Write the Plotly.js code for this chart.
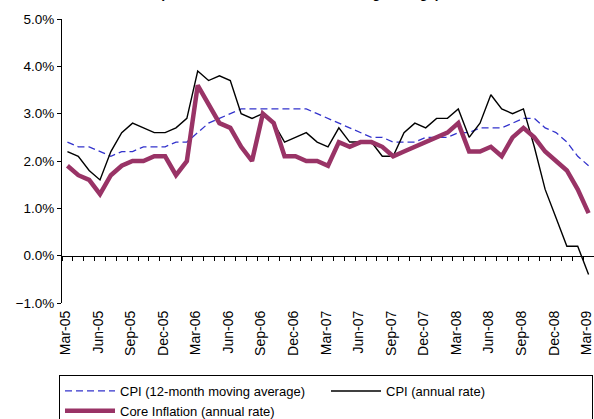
<!DOCTYPE html>
<html>
<head>
<meta charset="utf-8">
<script src="https://cdn.plot.ly/plotly-3.0.1.min.js"></script>
<style>
html,body{margin:0;padding:0;background:#fff;}
#chart{width:594px;height:419px;}
</style>
</head>
<body>
<div id="chart"></div>
<script>
const months = ["Mar-05","Apr-05","May-05","Jun-05","Jul-05","Aug-05","Sep-05","Oct-05","Nov-05","Dec-05","Jan-06","Feb-06",
"Mar-06","Apr-06","May-06","Jun-06","Jul-06","Aug-06","Sep-06","Oct-06","Nov-06","Dec-06","Jan-07","Feb-07",
"Mar-07","Apr-07","May-07","Jun-07","Jul-07","Aug-07","Sep-07","Oct-07","Nov-07","Dec-07","Jan-08","Feb-08",
"Mar-08","Apr-08","May-08","Jun-08","Jul-08","Aug-08","Sep-08","Oct-08","Nov-08","Dec-08","Jan-09","Feb-09","Mar-09"];

const tickLabels = ["Mar-05","Jun-05","Sep-05","Dec-05","Mar-06","Jun-06","Sep-06","Dec-06","Mar-07","Jun-07","Sep-07","Dec-07","Mar-08","Jun-08","Sep-08","Dec-08","Mar-09"];

const cpiMovingAvg = [2.4,2.3,2.3,2.2,2.1,2.2,2.2,2.3,2.3,2.3,2.4,2.4,
2.6,2.8,2.9,3.0,3.1,3.1,3.1,3.1,3.1,3.1,3.1,3.0,
2.9,2.8,2.7,2.6,2.5,2.5,2.4,2.4,2.4,2.5,2.5,2.5,
2.6,2.6,2.7,2.7,2.7,2.8,2.9,2.9,2.7,2.6,2.4,2.1,1.9];

const cpiAnnual = [2.2,2.1,1.8,1.6,2.2,2.6,2.8,2.7,2.6,2.6,2.7,2.9,
3.9,3.7,3.8,3.7,3.0,2.9,3.0,2.8,2.4,2.5,2.6,2.4,
2.3,2.7,2.4,2.4,2.4,2.1,2.1,2.6,2.8,2.7,2.9,2.9,
3.1,2.5,2.8,3.4,3.1,3.0,3.1,2.3,1.4,0.8,0.2,0.2,-0.4];

const coreInflation = [1.9,1.7,1.6,1.3,1.7,1.9,2.0,2.0,2.1,2.1,1.7,2.0,
3.6,3.2,2.8,2.7,2.3,2.0,3.0,2.8,2.1,2.1,2.0,2.0,
1.9,2.4,2.3,2.4,2.4,2.3,2.1,2.2,2.3,2.4,2.5,2.6,
2.8,2.2,2.2,2.3,2.1,2.5,2.7,2.5,2.2,2.0,1.8,1.4,0.9];

const seriesNames = ["CPI (12-month moving average)","CPI (annual rate)","Core Inflation (annual rate)"];
const chartTitle = "(annual rate and 12-month moving average)";

const font = "Liberation Sans, Arial, sans-serif";

const traces = [
  {x: months, y: cpiMovingAvg, name: seriesNames[0], type: "scatter", mode: "lines",
   line: {color: "#3333cc", width: 1.3, dash: "7px,4px"}, hoverinfo: "x+y"},
  {x: months, y: cpiAnnual, name: seriesNames[1], type: "scatter", mode: "lines",
   line: {color: "#000000", width: 1.4}, hoverinfo: "x+y"},
  {x: months, y: coreInflation, name: seriesNames[2], type: "scatter", mode: "lines",
   line: {color: "#993366", width: 4.5}, hoverinfo: "x+y"},
  {x: months, y: months.map(() => null), xaxis: "x2", yaxis: "y", type: "scatter", mode: "lines",
   showlegend: false, hoverinfo: "skip"}
];

const layout = {
  width: 594, height: 419,
  margin: {l: 62, r: 0, t: 19, b: 116, autoexpand: false},
  paper_bgcolor: "#ffffff", plot_bgcolor: "#ffffff",
  font: {family: font, color: "#000000", size: 13},
  showlegend: true,
  xaxis: {
    type: "category", range: [-0.5, 48.5], anchor: "y", automargin: false,
    showline: false, showgrid: false, zeroline: false, ticks: "",
    tickmode: "array", tickvals: tickLabels, ticktext: tickLabels,
    tickangle: -90, ticklabelstandoff: 4, ticklabelshift: -2,
    tickfont: {family: font, size: 14, color: "#000"}
  },
  xaxis2: {
    type: "category", range: [-0.5, 48.5], overlaying: "x", anchor: "free", position: 1/6,
    side: "bottom", showline: true, linecolor: "#000", linewidth: 1, automargin: false,
    showgrid: false, zeroline: false, showticklabels: false,
    tickson: "boundaries", ticks: "outside", ticklen: 4, tickcolor: "#000", tickwidth: 1,
    tickmode: "linear", tick0: 0, dtick: 1
  },
  yaxis: {
    range: [-1, 5], dtick: 1, tick0: 0, tickformat: ".1f", ticksuffix: "%", automargin: false,
    showline: true, linecolor: "#000", linewidth: 1, ticks: "outside", ticklen: 4, tickcolor: "#000",
    showgrid: false, zeroline: false, tickfont: {family: font, size: 13.5, color: "#000"}
  },
  legend: {
    orientation: "h", xref: "container", yref: "container",
    x: 59/594, xanchor: "left", y: 1 - 375/419, yanchor: "top",
    bordercolor: "#000", borderwidth: 1, bgcolor: "#fff",
    font: {family: font, size: 13, color: "#000"},
    entrywidth: 201, entrywidthmode: "pixels", tracegroupgap: 0, itemwidth: 50
  },
  annotations: [{
    text: "<b>" + chartTitle + "</b>", xref: "paper", yref: "paper", x: 0.447, y: 1,
    xanchor: "center", yanchor: "bottom", yshift: 15.5, showarrow: false,
    font: {family: font, size: 13.5, color: "#000"}
  }]
};

Plotly.newPlot("chart", traces, layout, {displayModeBar: false, staticPlot: true});
</script>
</body>
</html>
